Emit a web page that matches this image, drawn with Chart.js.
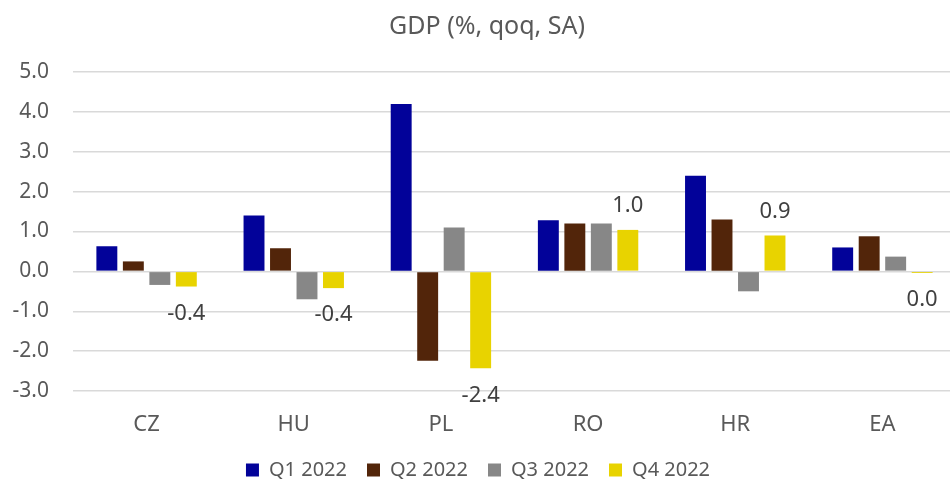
<!DOCTYPE html>
<html>
<head>
<meta charset="utf-8">
<script src="https://cdn.jsdelivr.net/npm/chart.js@4.4.1/dist/chart.umd.min.js"></script>
<style>
  html, body { margin: 0; padding: 0; background: #fff; overflow: hidden; }
  #wrap { width: 956px; height: 484px; }
</style>
</head>
<body>
<div id="wrap"><canvas id="gdpChart"></canvas></div>
<script>
// GDP growth, % q/q, seasonally adjusted
const countries = ['CZ', 'HU', 'PL', 'RO', 'HR', 'EA'];
const seriesNames = ['Q1 2022', 'Q2 2022', 'Q3 2022', 'Q4 2022'];
const q1 = [0.63, 1.4, 4.2, 1.28, 2.4, 0.6];
const q2 = [0.25, 0.58, -2.24, 1.2, 1.3, 0.88];
const q3 = [-0.34, -0.7, 1.1, 1.2, -0.5, 0.37];
const q4 = [-0.38, -0.42, -2.43, 1.04, 0.9, -0.04];
const yMin = -3;
const yMax = 5;
const yStep = 1;

const colors = ['#020299', '#52250a', '#878787', '#e8d300'];
const textGrey = '#595959';
const fontFamily = '"Noto Sans", "Open Sans", sans-serif';

// title drawn by hand so it can sit a little right of the canvas centre
const titlePlugin = {
  id: 'gdpTitle',
  afterDraw(chart) {
    const ctx = chart.ctx;
    ctx.save();
    ctx.font = '25px ' + fontFamily;
    ctx.fillStyle = textGrey;
    ctx.textAlign = 'center';
    ctx.textBaseline = 'middle';
    ctx.fillText('GDP (%, qoq, SA)', 487, 27);
    ctx.restore();
  }
};

// value labels for the last quarter only
const q4Labels = {
  id: 'q4Labels',
  afterDatasetsDraw(chart) {
    const meta = chart.getDatasetMeta(3);
    const ctx = chart.ctx;
    ctx.save();
    ctx.font = '22px ' + fontFamily;
    ctx.fillStyle = '#404040';
    ctx.textAlign = 'center';
    ctx.textBaseline = 'middle';
    meta.data.forEach((bar, i) => {
      const v = q4[i];
      const txt = (Math.abs(v) < 0.05 ? 0 : v).toFixed(1);
      const y = v >= 0 ? bar.y - 24 : bar.y + 27;
      ctx.fillText(txt, bar.x, y);
    });
    ctx.restore();
  }
};

const datasets = [q1, q2, q3, q4].map((vals, i) => ({
  label: seriesNames[i],
  data: vals,
  backgroundColor: colors[i],
  borderWidth: 0,
  categoryPercentage: 0.72,
  barPercentage: 0.79
}));

const ctx = document.getElementById('gdpChart').getContext('2d');
const gdpChart = new Chart(ctx, {
  type: 'bar',
  data: { labels: countries, datasets: datasets },
  plugins: [titlePlugin, q4Labels],
  options: {
    responsive: true,
    maintainAspectRatio: false,
    animation: false,
    layout: { padding: { top: 72, left: 0, right: 0, bottom: -6 } },
    plugins: {
      title: { display: false },
      tooltip: { enabled: false },
      legend: {
        position: 'bottom',
        labels: {
          boxWidth: 13,
          boxHeight: 13,
          padding: 20,
          color: textGrey,
          font: { family: fontFamily, size: 20 }
        }
      }
    },
    scales: {
      x: {
        grid: { display: false, drawTicks: false },
        border: { display: false },
        afterFit: (scale) => { scale.height = 49; },
        ticks: {
          color: textGrey,
          padding: 21,
          font: { family: fontFamily, size: 22 }
        }
      },
      y: {
        min: yMin,
        max: yMax,
        grid: { color: '#d9d9d9', lineWidth: 1.5, drawTicks: false },
        border: { display: false },
        afterFit: (scale) => { scale.width = 73; },
        ticks: {
          stepSize: yStep,
          color: textGrey,
          padding: 24,
          font: { family: fontFamily, size: 21 },
          callback: (v) => v.toFixed(1)
        }
      }
    }
  }
});
</script>
</body>
</html>
